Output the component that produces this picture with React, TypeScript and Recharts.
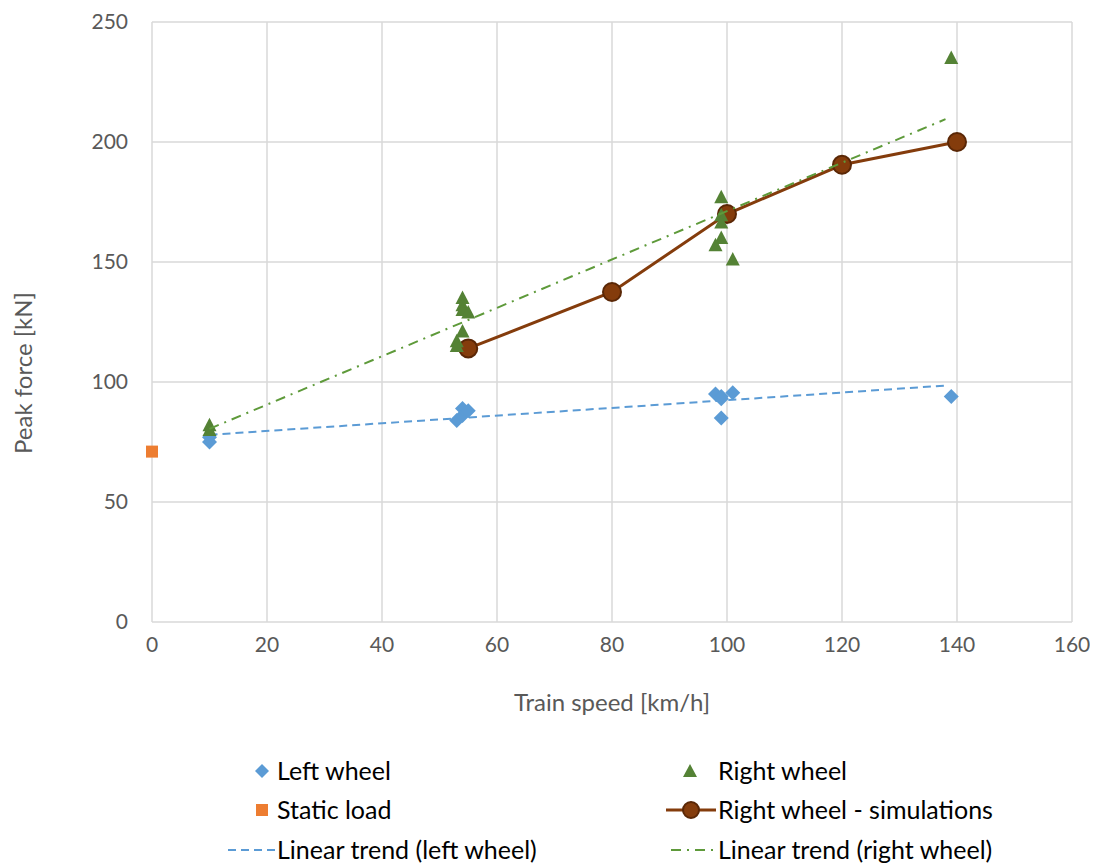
import React from "react";
import { ComposedChart, Scatter, XAxis, YAxis, CartesianGrid, Label } from "recharts";

const FONT = "Lato, 'Noto Sans', sans-serif";

const xTicks = [0, 20, 40, 60, 80, 100, 120, 140, 160];
const yTicks = [0, 50, 100, 150, 200, 250];

const leftWheel = [
  { x: 10, y: 77 }, { x: 10, y: 75 },
  { x: 53, y: 84 }, { x: 54, y: 86 }, { x: 54, y: 89 }, { x: 55, y: 88 },
  { x: 98, y: 95 }, { x: 99, y: 94 }, { x: 99, y: 93 }, { x: 99, y: 85 }, { x: 101, y: 95.5 },
  { x: 139, y: 94 },
];

const rightWheel = [
  { x: 10, y: 82 }, { x: 10, y: 80 },
  { x: 54, y: 135 }, { x: 54, y: 132 }, { x: 54, y: 130 }, { x: 55, y: 129 },
  { x: 54, y: 121 }, { x: 53, y: 117 }, { x: 53, y: 115 },
  { x: 99, y: 177 }, { x: 99, y: 169.5 }, { x: 99, y: 166.5 }, { x: 99, y: 160 },
  { x: 98, y: 157 }, { x: 101, y: 151 },
  { x: 139, y: 235 },
];

const staticLoad = [{ x: 0, y: 71 }];

const simulations = [
  { x: 55, y: 114 }, { x: 80, y: 137.5 }, { x: 100, y: 170 }, { x: 120, y: 190.5 }, { x: 140, y: 200 },
];

const trendLeft = [{ x: 10, y: 78 }, { x: 138, y: 98.5 }];
const trendRight = [{ x: 10, y: 80.5 }, { x: 138, y: 209.5 }];

const BLUE = "#5b9bd5";
const GREEN = "#548235";
const GREEN_LINE = "#5e9a3a";
const ORANGE = "#ed7d31";
const BROWN = "#843c0c";
const BROWN_DARK = "#5a2706";
const AXIS_TEXT = "#595959";

const Diamond = (p: any) => {
  const { cx, cy } = p;
  const r = 7.5;
  return <polygon points={`${cx},${cy - r} ${cx + r},${cy} ${cx},${cy + r} ${cx - r},${cy}`} fill={BLUE} />;
};

const Triangle = (p: any) => {
  const { cx, cy } = p;
  return <polygon points={`${cx},${cy - 7.5} ${cx + 7},${cy + 6} ${cx - 7},${cy + 6}`} fill={GREEN} />;
};

const Square = (p: any) => {
  const { cx, cy } = p;
  return <rect x={cx - 6} y={cy - 6} width={12} height={12} fill={ORANGE} />;
};

const Dot = (p: any) => {
  const { cx, cy } = p;
  return <circle cx={cx} cy={cy} r={9} fill={BROWN} stroke={BROWN_DARK} strokeWidth={2} />;
};

const Nothing = () => <g />;

const legendText: React.CSSProperties = {
  position: "absolute",
  fontFamily: FONT,
  fontSize: 25,
  color: "#000",
  lineHeight: "26px",
  whiteSpace: "nowrap",
};

function LegendItem({ x, y, marker, label }: { x: number; y: number; marker: React.ReactNode; label: string }) {
  return (
    <>
      <svg style={{ position: "absolute", left: x - 60, top: y - 12 }} width={60} height={24}>
        {marker}
      </svg>
      <div style={{ ...legendText, left: x, top: y - 14 }}>{label}</div>
    </>
  );
}

export default function App() {
  return (
    <div style={{ position: "relative", width: 1090, height: 855, background: "#fff" }}>
      <ComposedChart
        width={1090}
        height={740}
        margin={{ top: 14, right: 26, left: 0, bottom: 16 }}
      >
        <CartesianGrid stroke="#d9d9d9" strokeWidth={1.5} />
        <XAxis
          type="number"
          dataKey="x"
          domain={[0, 160]}
          ticks={xTicks}
          height={110}
          tickLine={false}
          axisLine={false}
          tickSize={0}
          tickMargin={15}
          tick={{ fill: AXIS_TEXT, fontSize: 21, fontFamily: FONT }}
        >
          <Label
            content={(props: any) => {
              const vb = props.viewBox;
              return (
                <text
                  x={vb.x + vb.width / 2}
                  y={vb.y + 89}
                  textAnchor="middle"
                  fill={AXIS_TEXT}
                  fontSize={24}
                  fontFamily={FONT}
                >
                  Train speed [km/h]
                </text>
              );
            }}
          />
        </XAxis>
        <YAxis
          type="number"
          dataKey="y"
          domain={[0, 250]}
          ticks={yTicks}
          width={144}
          tickLine={false}
          axisLine={false}
          tickSize={0}
          tickMargin={24}
          tick={{ fill: AXIS_TEXT, fontSize: 21, fontFamily: FONT }}
        >
          <Label
            content={() => (
              <text
                x={14}
                y={365}
                transform="rotate(-90 14 365)"
                textAnchor="middle"
                dominantBaseline="central"
                fill={AXIS_TEXT}
                fontSize={24}
                fontFamily={FONT}
              >
                Peak force [kN]
              </text>
            )}
          />
        </YAxis>
        <Scatter
          data={trendLeft}
          fill={BLUE}
          shape={Nothing}
          line={{ stroke: BLUE, strokeWidth: 2, strokeDasharray: "8 5" }}
          isAnimationActive={false}
        />
        <Scatter data={leftWheel} fill={BLUE} shape={Diamond} isAnimationActive={false} />
        <Scatter data={staticLoad} fill={ORANGE} shape={Square} isAnimationActive={false} />
        <Scatter
          data={simulations}
          fill={BROWN}
          shape={Dot}
          line={{ stroke: BROWN, strokeWidth: 3 }}
          isAnimationActive={false}
        />
        <Scatter data={rightWheel} fill={GREEN} shape={Triangle} isAnimationActive={false} />
        <Scatter
          data={trendRight}
          fill={GREEN_LINE}
          shape={Nothing}
          line={{ stroke: GREEN_LINE, strokeWidth: 2, strokeDasharray: "10 6 2 6" }}
          isAnimationActive={false}
        />
      </ComposedChart>

      <LegendItem
        x={269}
        y={763}
        label="Left wheel"
        marker={<polygon points="45,5 52,12 45,19 38,12" fill={BLUE} />}
      />
      <LegendItem
        x={710}
        y={763}
        label="Right wheel"
        marker={<polygon points="32,5 39,18 25,18" fill={GREEN} />}
      />
      <LegendItem
        x={269}
        y={802}
        label="Static load"
        marker={<rect x={39} y={6} width={12} height={12} fill={ORANGE} />}
      />
      <LegendItem
        x={710}
        y={802}
        label="Right wheel - simulations"
        marker={
          <>
            <line x1={8} y1={12} x2={58} y2={12} stroke={BROWN} strokeWidth={3} />
            <circle cx={33} cy={12} r={8} fill={BROWN} stroke={BROWN_DARK} strokeWidth={2} />
          </>
        }
      />
      <LegendItem
        x={269}
        y={842}
        label="Linear trend (left wheel)"
        marker={<line x1={11} y1={12} x2={58} y2={12} stroke={BLUE} strokeWidth={2} strokeDasharray="8 5" />}
      />
      <LegendItem
        x={710}
        y={842}
        label="Linear trend (right wheel)"
        marker={<line x1={13} y1={12} x2={55} y2={12} stroke={GREEN_LINE} strokeWidth={2} strokeDasharray="10 6 2 6" />}
      />
    </div>
  );
}
